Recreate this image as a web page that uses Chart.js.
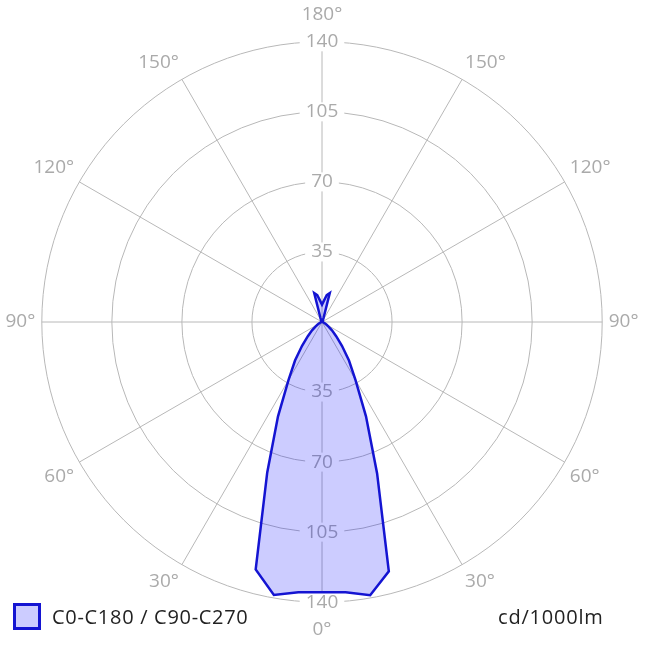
<!DOCTYPE html>
<html>
<head>
<meta charset="utf-8">
<title>Polar intensity diagram</title>
<script src="https://cdn.jsdelivr.net/npm/chart.js@4.4.1/dist/chart.umd.min.js"></script>
<style>
  body { margin: 0; background: #fff; }
  #wrap { position: relative; width: 645px; height: 645px; }
  .legend { position: absolute; left: 13px; top: 603px; height: 27px; display: flex; align-items: center;
            font: 20px "Open Sans", sans-serif; letter-spacing: 0.7px; color: #222; }
  .legend .box { width: 22px; height: 21px; border: 3px solid #1414d2; background: #ccccff; margin-right: 11px; }
  .unit { position: absolute; left: 498px; top: 603px; height: 27px; line-height: 27px;
          font: 20px "Open Sans", sans-serif; letter-spacing: 0.8px; color: #222; }
</style>
</head>
<body>
<div id="wrap">
  <canvas id="polarChart" width="645" height="645"></canvas>
  <div class="legend"><span class="box"></span><span id="legendText"></span></div>
  <div class="unit">cd/1000lm</div>
</div>
<script>
// gamma angles (deg) of the measured values, 5 deg steps
const gammaAngles = [0, 5, 10, 15, 20, 25, 30, 35, 40, 45, 50, 55, 60, 65, 70, 75, 80, 85, 90,
                     95, 100, 105, 110, 115, 120, 125, 130, 135, 140, 145, 150, 155, 160, 165, 170, 175, 180];
// right half of the diagram (cd/1000lm)
const c0Values = [135, 135.5, 138.6, 129, 80.5, 52, 33.5, 23.5, 15.5, 10, 6.5, 4, 2.5, 1.5, 1, 0.7, 0.5, 0.4, 0.4,
                  0.4, 0.4, 0.4, 0.4, 0.4, 0.4, 0.4, 0.4, 0.5, 0.5, 0.6, 0.8, 1.2, 2.5, 15, 13.7, 10.6, 8.7];
// left half of the diagram (cd/1000lm)
const c180Values = [135, 135.5, 138.5, 128, 80, 52, 33.5, 23.5, 15.5, 10, 6.5, 4, 2.5, 1.5, 1, 0.7, 0.5, 0.4, 0.4,
                    0.4, 0.4, 0.4, 0.4, 0.4, 0.4, 0.4, 0.4, 0.5, 0.5, 0.6, 0.8, 1.2, 2.5, 15, 13.7, 10.6, 8.7];
// angle labels every 30 deg, clockwise from the top
const angleLabels = ['180°', '150°', '120°', '90°', '60°', '30°', '0°', '30°', '60°', '90°', '120°', '150°'];
const ringTicks = [35, 70, 105, 140];
const seriesName = 'C0-C180 / C90-C270';

// chart.js already adds half the tick font size to the label distance
const labelPadding = [6.5, -3.5, -3.5, -3, -3.5, -3.5, 6.5, -3.5, -3.5, -3, -3.5, -3.5];
const GRID = '#b8b8b8';
const TEXT = '#aaaaaa';
const FONT = '"Open Sans", sans-serif';
const FSIZE = 19;

// radar goes clockwise from the top: right half 180 -> 0, then left half 5 -> 175
const step = gammaAngles[1] - gammaAngles[0];
const n = (gammaAngles.length - 1) * 2;
const labels = [];
const values = [];
for (let i = 0; i < n; i++) {
  labels.push(i % 6 === 0 ? angleLabels[i / 6] : '');
  const clockwise = i * step;
  if (clockwise <= 180) {
    values.push(c0Values[gammaAngles.indexOf(180 - clockwise)]);
  } else {
    values.push(c180Values[gammaAngles.indexOf(clockwise - 180)]);
  }
}

document.getElementById('legendText').textContent = seriesName;

// tick labels on the lower half of the vertical axis
const bottomTicks = {
  id: 'bottomTicks',
  beforeDatasetsDraw(chart) {
    const r = chart.scales.r;
    const ctx = chart.ctx;
    const bottomIndex = n / 2;
    ctx.save();
    ctx.font = FSIZE + 'px ' + FONT;
    ctx.textAlign = 'center';
    ctx.textBaseline = 'middle';
    ringTicks.forEach(v => {
      const p = r.getPointPositionForValue(bottomIndex, v);
      const t = String(v);
      const w = ctx.measureText(t).width;
      ctx.fillStyle = '#fff';
      ctx.fillRect(p.x - w / 2 - 6, p.y - FSIZE / 2, w + 12, FSIZE);
      ctx.fillStyle = TEXT;
      ctx.fillText(t, p.x, p.y);
    });
    ctx.restore();
  }
};

new Chart(document.getElementById('polarChart'), {
  type: 'radar',
  data: {
    labels: labels,
    datasets: [{
      label: seriesName,
      rAxisID: 'r',
      data: values,
      borderColor: '#1414d2',
      backgroundColor: 'rgba(0,0,255,0.2)',
      borderWidth: 2.5,
      pointRadius: 0,
      pointHoverRadius: 0,
      tension: 0,
      fill: true
    }]
  },
  options: {
    responsive: false,
    animation: false,
    layout: { padding: 3 },
    plugins: {
      legend: { display: false },
      tooltip: { enabled: false }
    },
    scales: {
      r: {
        min: 0,
        max: 140,
        startAngle: 0,
        ticks: {
          stepSize: 35,
          color: TEXT,
          font: { family: FONT, size: FSIZE, lineHeight: 0.01 },
          showLabelBackdrop: true,
          backdropColor: '#fff',
          backdropPadding: { x: 6, y: 0 }
        },
        grid: { circular: true, color: GRID, lineWidth: 1 },
        angleLines: {
          color: ctx => (ctx.index % 6 === 0 ? GRID : 'rgba(0,0,0,0)'),
          lineWidth: 1
        },
        pointLabels: {
          color: TEXT,
          font: { family: FONT, size: FSIZE },
          padding: ctx => (ctx.index % 6 === 0 ? labelPadding[ctx.index / 6] : 0)
        }
      }
    }
  },
  plugins: [bottomTicks]
});
</script>
</body>
</html>
